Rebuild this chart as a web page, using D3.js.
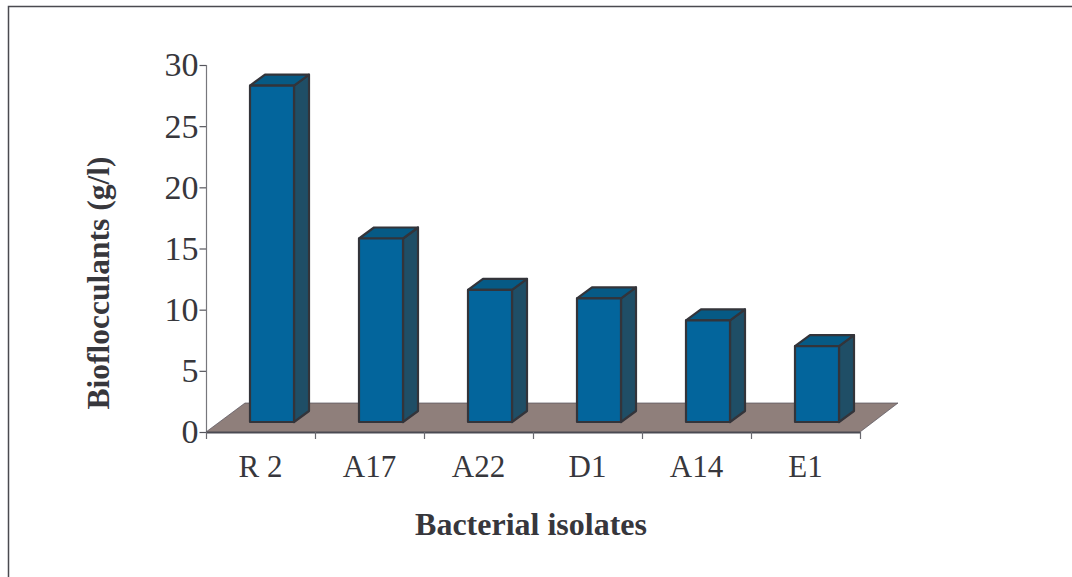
<!DOCTYPE html>
<html><head><meta charset="utf-8">
<style>html,body{margin:0;padding:0;background:#fff}svg{display:block}text{font-family:"Liberation Serif",serif;fill:#37373c}</style>
<script src="https://cdn.jsdelivr.net/npm/d3@7"></script></head>
<body><svg id="c" width="1072" height="577"></svg>
<script>
const categories = ["R 2","A17","A22","D1","A14","E1"];
const values = [27.5,15,10.8,10.1,8.3,6.2];
const yTicks = [0,5,10,15,20,25,30];
const svg = d3.select("#c");
const stroke = "#33343a";
const x = d3.scaleBand().domain(categories).range([206,860]);
const y = d3.scaleLinear().domain([0,30]).range([432,65]);
const barOff = {dx:11.5,dy:-10};
const side = {dx:15,dy:-11};
const barW = 44;
const line = d3.line();

svg.append("path").attr("d",line([[1072,6.5],[8.5,6.5],[8.5,577]])).attr("fill","none").attr("stroke","#4a4a50").attr("stroke-width",1.5);

svg.append("path").attr("d",line([[206,432],[860,432],[898,403],[245,403]])+"Z").attr("fill","#8f7f7b");
svg.append("path").attr("d",line([[206,432],[245,403],[898,403],[860,432]])).attr("fill","none").attr("stroke","#55505a").attr("stroke-width",0.7);

const yAxis = d3.axisLeft(y).tickValues(yTicks).tickSize(7).tickPadding(1);
const gy = svg.append("g").attr("transform","translate(206.5,0)").call(yAxis);
const xAxis = d3.axisBottom(x).tickSize(0).tickPadding(22);
const gx = svg.append("g").attr("transform","translate(0,432.5)").call(xAxis);
[gy,gx].forEach(g=>{g.selectAll("line,path").attr("stroke","#55555c").attr("stroke-width",1.2);g.select(".domain").attr("d",null);});
gy.selectAll("text").attr("font-size",34);
gx.selectAll("text").attr("font-size",31);
svg.append("path").attr("d",line([[206.5,y(30)],[206.5,432]])).attr("stroke","#77777c").attr("stroke-width",1.2);
svg.append("path").attr("d",line([[206,432.5],[860,432.5]])).attr("stroke","#4a4a52").attr("stroke-width",2);
const edgeTicks = [206].concat(categories.map(c=>x(c)+x.bandwidth()));
svg.selectAll(".xt").data(edgeTicks).enter().append("line").attr("class","xt")
 .attr("x1",d=>d+.5).attr("x2",d=>d+.5).attr("y1",432).attr("y2",439).attr("stroke","#6a6a70").attr("stroke-width",1.2);

const h0 = y(0)+barOff.dy;
const g = svg.append("g").attr("stroke",stroke).attr("stroke-width",2.2).attr("stroke-linejoin","round");
categories.forEach((c,i)=>{
  const l = x(c)+x.bandwidth()/2+barOff.dx-barW/2, r=l+barW;
  const t = h0-(y(0)-y(values[i]));
  g.append("path").attr("d",line([[r,t],[r+side.dx,t+side.dy],[r+side.dx,h0+side.dy],[r,h0]])+"Z").attr("fill","#1f4e66");
  g.append("path").attr("d",line([[l,t],[l+side.dx,t+side.dy],[r+side.dx,t+side.dy],[r,t]])+"Z").attr("fill","#065a85");
  g.append("rect").attr("x",l).attr("y",t).attr("width",barW).attr("height",h0-t).attr("fill","#03659c");
});

svg.append("text").attr("x",531).attr("y",535).attr("text-anchor","middle").attr("font-size",32).attr("font-weight","bold").text("Bacterial isolates");
svg.append("text").attr("transform","translate(109,283) rotate(-90)").attr("text-anchor","middle").attr("font-size",31.5).attr("font-weight","bold").text("Bioflocculants (g/l)");
</script></body></html>
